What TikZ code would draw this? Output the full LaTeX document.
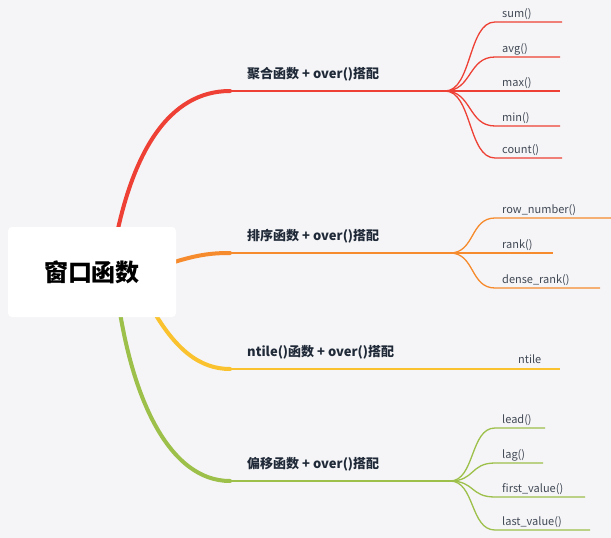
\documentclass[tikz,border=0pt]{standalone}
\usepackage{fontspec}
\setmainfont{Noto Sans CJK SC}
\usetikzlibrary{positioning}
\definecolor{bg}{HTML}{F5F5F7}
\definecolor{cred}{HTML}{EE4035}
\definecolor{corange}{HTML}{F58B2C}
\definecolor{cyellow}{HTML}{F9C22E}
\definecolor{cgreen}{HTML}{9DC04A}
\definecolor{ctext}{HTML}{1F2937}
\tikzset{
  branchlabel/.style={font=\bfseries\fontsize{13}{15}\selectfont, text=ctext, anchor=south west, inner sep=1pt},
  leaf/.style={font=\fontsize{11}{13}\selectfont, text=ctext!85, anchor=south west, inner sep=2pt},
  trunk/.style={line width=#1, line cap=round},
  twig/.style={line width=1.3pt}
}
\begin{document}
\begin{tikzpicture}[x=1pt,y=-1pt]
  \fill[bg] (0,0) rectangle (611,538);
  \useasboundingbox (0,0) rectangle (611,538);
  % red branch
  \coordinate (r0) at (112,260); \coordinate (r1) at (230,91); \coordinate (r2) at (445,91);
  \draw[cred, trunk=4pt] (r0) .. controls (130,150) and (170,91) .. (r1);
  \draw[cred, twig] (r1) -- (r2);
  \node[branchlabel] (agg) at (246,82) {聚合函数 + over()搭配};
  \foreach \y/\t/\e in {22/sum()/562, 57/avg()/560, 91/max()/560, 126/min()/560, 158/count()/562}{
    \draw[cred, twig] (r2) .. controls (472,91) and (468,\y) .. (495,\y) -- (\e,\y);
    \node[leaf] at (500,\y) {\t};
  }
  % orange branch
  \coordinate (o0) at (165,265); \coordinate (o1) at (230,253); \coordinate (o2) at (450,253);
  \draw[corange, trunk=4pt] (o0) .. controls (195,255) and (210,253) .. (o1);
  \draw[corange, twig] (o1) -- (o2);
  \node[branchlabel] (rnk) at (246,244) {排序函数 + over()搭配};
  \foreach \y/\t/\e in {218/row\_number()/611, 253/rank()/553, 288/dense\_rank()/600}{
    \draw[corange, twig] (o2) .. controls (475,253) and (470,\y) .. (495,\y) -- (\e,\y);
    \node[leaf] at (500,\y) {\t};
  }
  % yellow branch
  \coordinate (y0) at (150,305); \coordinate (y1) at (230,369); \coordinate (y2) at (560,369);
  \draw[cyellow, trunk=4pt] (y0) .. controls (175,350) and (200,369) .. (y1);
  \draw[cyellow, twig] (y1) -- (y2);
  \node[branchlabel] (ntl) at (246,360) {ntile()函数 + over()搭配};
  \node[leaf] (ntile) at (516,366) {ntile};
  % green branch
  \coordinate (g0) at (116,285); \coordinate (g1) at (230,481); \coordinate (g2) at (450,481);
  \draw[cgreen, trunk=4pt] (g0) .. controls (130,400) and (170,481) .. (g1);
  \draw[cgreen, twig] (g1) -- (g2);
  \node[branchlabel] (off) at (246,472) {偏移函数 + over()搭配};
  \foreach \y/\t/\e in {428/lead()/545, 463/lag()/543, 497/first\_value()/585, 530/last\_value()/590}{
    \draw[cgreen, twig] (g2) .. controls (475,481) and (470,\y) .. (495,\y) -- (\e,\y);
    \node[leaf] at (500,\y) {\t};
  }
  % root
  \node[fill=white, rounded corners=4pt, minimum width=168pt, minimum height=90pt,
        font=\bfseries\fontsize{24}{28}\selectfont] (root) at (92,272) {窗口函数};
\end{tikzpicture}
\end{document}
